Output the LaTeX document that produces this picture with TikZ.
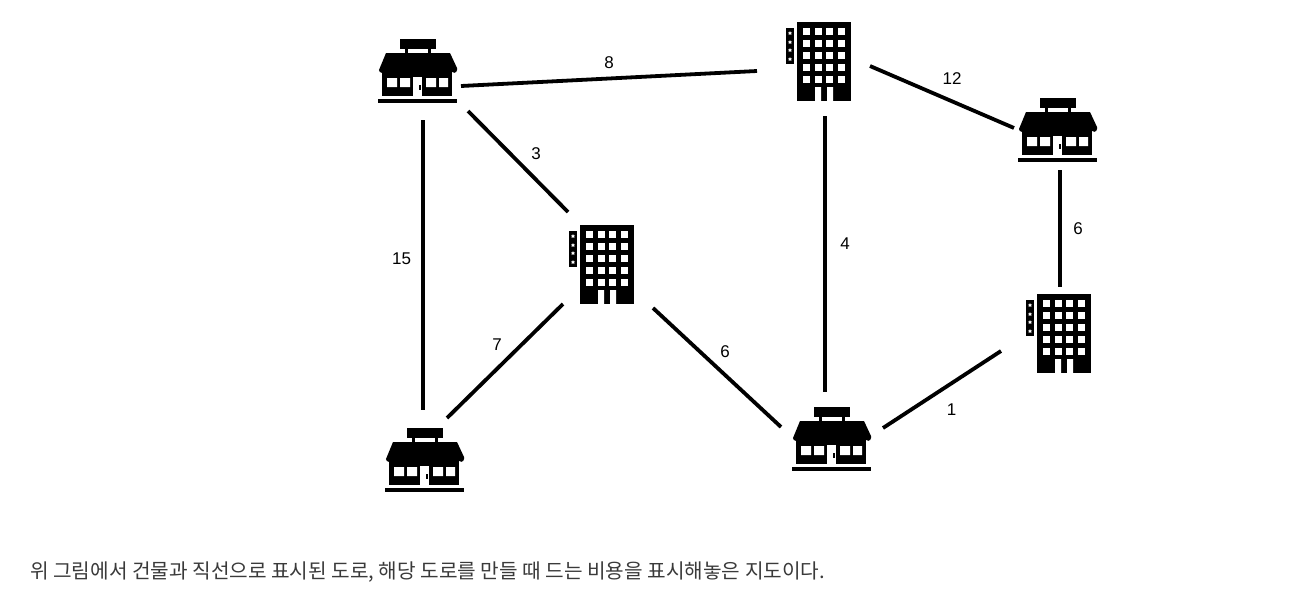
\documentclass[tikz,border=0pt]{standalone}
\usepackage{fontspec}
\setmainfont{Liberation Sans}
\newfontfamily\krfont{Noto Sans CJK KR}
\usetikzlibrary{calc}
\definecolor{captiongray}{HTML}{3A3A3A}
\tikzset{
  x=1pt,y=-1pt,
  road/.style={draw=black,line width=3.8pt},
  cost/.style={font=\fontsize{17}{19}\selectfont,inner sep=0pt,text=black},
  anchorbox/.style={inner sep=0pt,minimum width=1pt,minimum height=1pt},
  caption/.style={font=\krfont\fontsize{20.2}{24}\selectfont,text=captiongray,anchor=west,inner sep=0pt},
  shop/.pic={
    \fill[black] (-18,-31) rectangle (18,-21);
    \fill[black] (-13,-21) rectangle (-10,-17);
    \fill[black] (10,-21) rectangle (13,-17);
    \fill[black] (-32,-17) -- (32,-17) -- (39,-2) -- (39,0)
      \foreach \i in {1,...,14}{ arc[start angle=0,end angle=180,radius=2.786] } -- cycle;
    \fill[black] (-36,-3) rectangle (34,26);
    \fill[white] (-31,8) rectangle (-21,17) (-18,8) rectangle (-8,17)
      (8,8) rectangle (18,17) (21,8) rectangle (30,17);
    \fill[white] (-5,7) rectangle (4,26);
    \fill[black] (1,15) rectangle (3,20);
    \fill[black] (-40,29) rectangle (39,33);
  },
  hotel/.pic={
    \fill[black] (-21,-39) rectangle (33,40);
    \fill[black] (-32,-33) rectangle (-24,3);
    \foreach \yy in {-30,-18,-6,6,18}
      \foreach \xx in {-12,0,11.5,23}
        \fill[white] (\xx-3.5,\yy-3.5) rectangle (\xx+3.5,\yy+3.5);
    \fill[white] (-3,26) rectangle (3,40) (9,26) rectangle (15,40);
    \foreach \yy in {-28,-19,-11,-2}
      \fill[white] (-28,\yy) ++(0,-2) -- ++(0.6,1.4) -- ++(1.4,0.2) -- ++(-1,1) -- ++(0.4,1.4)
        -- ++(-1.4,-0.8) -- ++(-1.4,0.8) -- ++(0.4,-1.4) -- ++(-1,-1) -- ++(1.4,-0.2) -- cycle;
  }
}
\begin{document}
\begin{tikzpicture}
\useasboundingbox (0,0) rectangle (1310,611);
\fill[white] (0,0) rectangle (1310,611);
\node[anchorbox] (s1) at (418,70) {};
\node[anchorbox] (s2) at (1058,129) {};
\node[anchorbox] (s3) at (832,438) {};
\node[anchorbox] (s4) at (425,459) {};
\node[anchorbox] (h1) at (818,61) {};
\node[anchorbox] (h2) at (601,264) {};
\node[anchorbox] (h3) at (1058,333) {};
\pic at (s1) {shop};
\pic at (s2) {shop};
\pic at (s3) {shop};
\pic at (s4) {shop};
\pic at (h1) {hotel};
\pic at (h2) {hotel};
\pic at (h3) {hotel};
\draw[road] ($(s1)+(43,16)$) -- ($(h1)+(-61,10)$);
\draw[road] ($(h1)+(52,5)$) -- ($(s2)+(-44,-1)$);
\draw[road] ($(s1)+(50,41)$) -- ($(h2)+(-33,-52)$);
\draw[road] ($(s1)+(5,50)$) -- ($(s4)+(-2,-49)$);
\draw[road] ($(h1)+(7,55)$) -- ($(s3)+(-7,-46)$);
\draw[road] ($(s2)+(2,41)$) -- ($(h3)+(2,-46)$);
\draw[road] ($(h2)+(-38,40)$) -- ($(s4)+(22,-41)$);
\draw[road] ($(h2)+(52,44)$) -- ($(s3)+(-51,-11)$);
\draw[road] ($(h3)+(-57,18)$) -- ($(s3)+(51,-10)$);
\node[cost] (c8) at (609,63) {8};
\node[cost] (c12) at (952,79) {12};
\node[cost] (c3) at (536,154) {3};
\node[cost] (c15) at (401.5,259) {15};
\node[cost] (c4) at (845,244) {4};
\node[cost] (c6a) at (1078,229) {6};
\node[cost] (c7) at (497,345) {7};
\node[cost] (c6b) at (725,352) {6};
\node[cost] (c1) at (951.5,410) {1};
\node[caption] (cap) at (30,572.5) {위 그림에서 건물과 직선으로 표시된 도로, 해당 도로를 만들 때 드는 비용을 표시해놓은 지도이다.};
\end{tikzpicture}
\end{document}
